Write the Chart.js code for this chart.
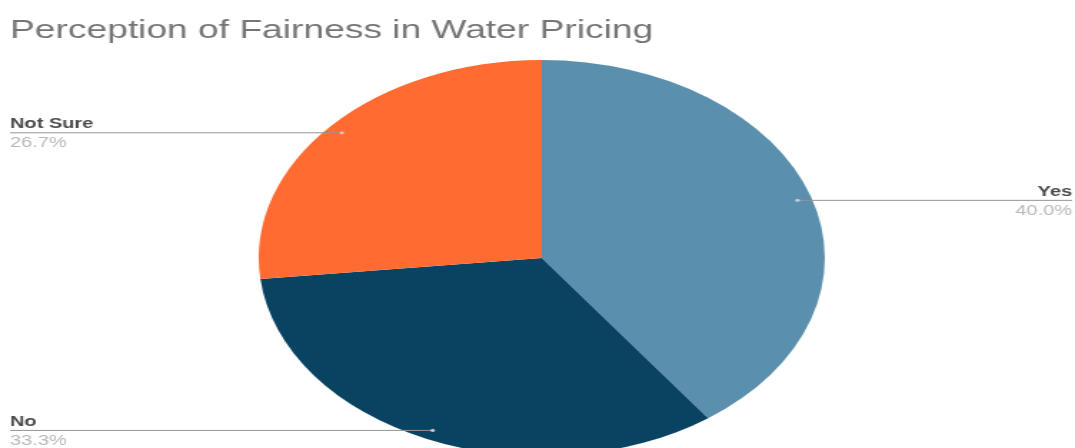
<!DOCTYPE html>
<html>
<head>
<meta charset="utf-8">
<script src="https://cdn.jsdelivr.net/npm/chart.js@4/dist/chart.umd.min.js"></script>
<style>
  html, body { margin: 0; padding: 0; background: #ffffff; }
  #frame { width: 1075px; height: 448px; overflow: hidden; position: relative; background: #fff; }
  /* the chart is laid out narrow and widened horizontally */
  #wrap { width: 752px; height: 460px; transform: scaleX(1.4295); transform-origin: 0 0; position: absolute; left: 0; top: 0; }
</style>
</head>
<body>
<div id="frame"><div id="wrap"><canvas id="chart"></canvas></div></div>
<script>
const categories = ['Yes', 'No', 'Not Sure'];
const shares = [40.0, 33.3, 26.7];
const sliceColors = ['#5a8fae', '#0a4362', '#ff6b31'];
const chartTitle = 'Perception of Fairness in Water Pricing';

const FONT = '"Liberation Sans", Arial, Helvetica, sans-serif';

// Leader lines with name and percentage for every slice
const sideLabels = {
  id: 'sideLabels',
  afterDatasetsDraw(chart) {
    const ctx = chart.ctx;
    const meta = chart.getDatasetMeta(0);
    const leftX = 7, rightX = chart.width - 2;
    meta.data.forEach((arc, i) => {
      const mid = (arc.startAngle + arc.endAngle) / 2;
      const r = arc.outerRadius * 0.95;
      const px = arc.x + Math.cos(mid) * r;
      const py = arc.y + Math.sin(mid) * r;
      const onLeft = Math.cos(mid) < 0;
      ctx.save();
      ctx.strokeStyle = '#959595';
      ctx.lineWidth = 1;
      ctx.beginPath();
      ctx.moveTo(onLeft ? leftX : rightX, py + 0.5);
      ctx.lineTo(px, py + 0.5);
      ctx.stroke();
      ctx.fillStyle = 'rgba(200,210,220,0.9)';
      ctx.beginPath();
      ctx.arc(px, py + 0.5, 1.6, 0, Math.PI * 2);
      ctx.fill();
      ctx.textAlign = onLeft ? 'left' : 'right';
      ctx.textBaseline = 'alphabetic';
      ctx.fillStyle = '#4a4a4a';
      ctx.font = '600 14px ' + FONT;
      ctx.fillText(chart.data.labels[i], onLeft ? leftX : rightX, py - 4);
      ctx.fillStyle = '#b8b8b8';
      ctx.font = '14px ' + FONT;
      const v = chart.data.datasets[0].data[i];
      ctx.fillText(v.toFixed(1) + '%', onLeft ? leftX : rightX, py + 15);
      ctx.restore();
    });
  }
};

new Chart(document.getElementById('chart'), {
  type: 'pie',
  data: {
    labels: categories,
    datasets: [{
      data: shares,
      backgroundColor: sliceColors,
      borderWidth: 0,
      hoverOffset: 0
    }]
  },
  options: {
    responsive: true,
    maintainAspectRatio: false,
    animation: false,
    layout: { padding: { left: 7, right: 1, top: 0, bottom: 4 } },
    plugins: {
      legend: { display: false },
      tooltip: { enabled: false },
      title: {
        display: true,
        text: chartTitle,
        align: 'start',
        color: '#757575',
        font: { family: FONT, size: 26, weight: 'normal' },
        padding: { top: 15, bottom: 13.8 }
      }
    }
  },
  plugins: [sideLabels]
});
</script>
</body>
</html>
